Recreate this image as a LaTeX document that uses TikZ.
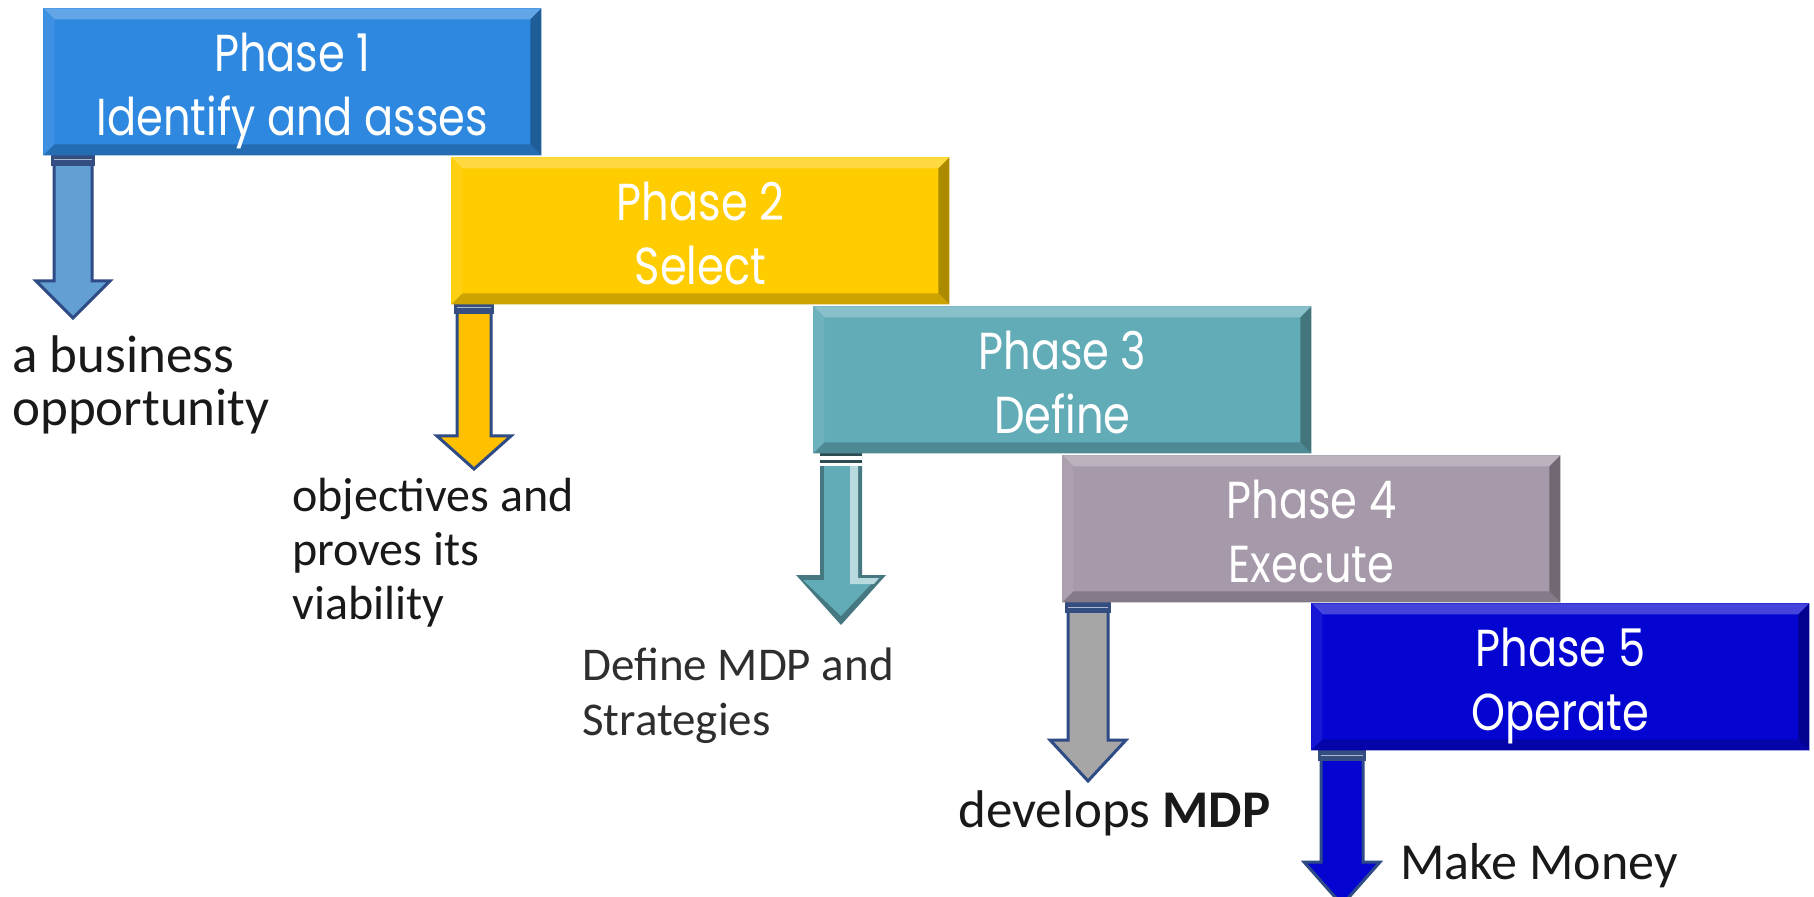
\documentclass[tikz,border=0pt]{standalone}
\usepackage{fontspec}
\setmainfont{Carlito}
\newfontfamily\phasefont[FakeStretch=0.83]{Poppins}
\usetikzlibrary{calc}
\definecolor{c1}{RGB}{46,136,224}
\definecolor{c2}{RGB}{255,204,0}
\definecolor{c3}{RGB}{98,172,184}
\definecolor{c4}{RGB}{166,153,169}
\definecolor{c5}{RGB}{5,5,210}
\definecolor{a1}{RGB}{98,159,210}
\definecolor{a2}{RGB}{255,192,0}
\definecolor{a4}{RGB}{166,166,166}
\definecolor{aout}{RGB}{47,75,133}
\definecolor{capc}{RGB}{52,78,130}
\definecolor{txt}{RGB}{25,25,25}
\tikzset{
  phasebox/.style={rectangle, minimum width=249pt, minimum height=73.5pt, inner sep=0pt,
    fill=#1, text=white, align=center, anchor=north west,
    font=\phasefont\fontsize{26}{32}\selectfont,
    text height=54pt, text depth=0pt,
    path picture={
      \fill[#1!75!white] (path picture bounding box.north west) -- (path picture bounding box.north east)
        -- ([shift={(-5.5pt,-5.5pt)}]path picture bounding box.north east) -- ([shift={(5.5pt,-5.5pt)}]path picture bounding box.north west) -- cycle;
      \fill[#1!93!white] (path picture bounding box.north west) -- ([shift={(5.5pt,-5.5pt)}]path picture bounding box.north west)
        -- ([shift={(5.5pt,5.5pt)}]path picture bounding box.south west) -- (path picture bounding box.south west) -- cycle;
      \fill[#1!80!black] (path picture bounding box.south west) -- (path picture bounding box.south east)
        -- ([shift={(-5.5pt,5.5pt)}]path picture bounding box.south east) -- ([shift={(5.5pt,5.5pt)}]path picture bounding box.south west) -- cycle;
      \fill[#1!68!black] (path picture bounding box.north east) -- ([shift={(-5.5pt,-5.5pt)}]path picture bounding box.north east)
        -- ([shift={(-5.5pt,5.5pt)}]path picture bounding box.south east) -- (path picture bounding box.south east) -- cycle;
    }},
  arrline/.style={draw=aout, line width=1.5pt, line join=miter},
  lab/.style={anchor=base west, align=left, inner sep=0pt, text=txt, font=\fontsize{#1}{#1}\selectfont},
}
% \blockarr{cx}{ytop}{ybase}{ytip}{stemhalf}{headhalf}{fill}
\newcommand{\blockarr}[7]{%
  \draw[arrline, fill=#7] (#1-#5,#2) -- (#1+#5,#2) -- (#1+#5,#3) -- (#1+#6,#3) -- (#1,#4)
     -- (#1-#6,#3) -- (#1-#5,#3) -- cycle;
  \fill[capc] (#1-#5-3,#2-4) rectangle (#1+#5+3,#2+11);
  \draw[white!60!capc, line width=0.5pt] (#1-#5,#2+5) -- (#1+#5,#2+5);
}
\begin{document}
\begin{tikzpicture}[x=0.5pt,y=-0.5pt]
\useasboundingbox[fill=white] (0,0) rectangle (1814,897);

% arrows first (under boxes)
\blockarr{73}{155}{281}{318}{19}{37}{a1}
\blockarr{474}{303}{436}{469}{17}{37}{a2}
% arrow 3 (bevelled, teal)
\coordinate (a3top) at (841,451);
\coordinate (a3tip) at (841,625);
\fill[c3!70!black] (841-21,451) -- (841+21,451) -- (841+21,575) -- (841+45,575) -- (a3tip) -- (841-45,575) -- (841-21,575) -- cycle;
\fill[c3] (841-17,466) -- (841+13,466) -- (841+13,580) -- (841+34,580) -- (841,616) -- (841-38,580) -- (841-17,580) -- cycle;
\fill[c3!45!white] (841+9,466) -- (841+17,466) -- (841+17,578) -- (841+38,578) -- (841+33,584) -- (841+9,584) -- cycle;
\fill[white] (841-21,451) rectangle (841+21,466);
\fill[c3!45!black] (841-21,453) rectangle (841+21,456);
\fill[c3!45!black] (841-21,460) rectangle (841+21,463);
\blockarr{1088}{602}{740}{781}{20}{38}{a4}
\blockarr{1342}{750}{862}{905}{21}{38}{c5}

% phase boxes
\node[phasebox=c5] (p5) at (1311,603) {Phase 5\\Operate};
\node[phasebox=c4] (p4) at (1062,455) {Phase 4\\Execute};
\node[phasebox=c3] (p3) at (813,306) {Phase 3\\Define};
\node[phasebox=c2] (p2) at (451,157) {Phase 2\\Select};
\node[phasebox=c1] (p1) at (43,8) {Phase 1\\Identify and asses};

% labels (anchored at the baseline of their last line)
\node[lab=26.5] (t1) at (12,426) {a business\\opportunity};
\node[lab=24] (t2) at (292,619) {objectives and\\[3pt]proves its\\[3pt]viability};
\node[lab=23.5, text=black!82] (t3) at (582,735) {Define MDP and\\[4pt]Strategies};
\node[lab=26.5] (t4) at (958,827) {develops \textbf{MDP}};
\node[lab=26] (t5) at (1400,879) {Make Money};
\end{tikzpicture}
\end{document}
